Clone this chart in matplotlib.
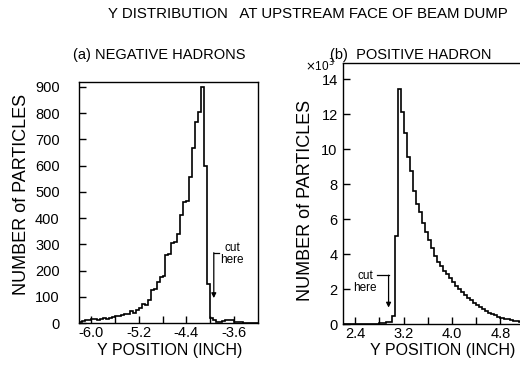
import numpy as np
import matplotlib
matplotlib.use("Agg")
import matplotlib.pyplot as plt

plt.rcParams['font.family'] = ['Liberation Sans', 'DejaVu Sans']
plt.rcParams['axes.unicode_minus'] = False

bin_width = 0.05

# (a) negative hadrons, bins from -6.20 in steps of 0.05
neg_start = -6.20
neg_counts = [3, 8, 12, 10, 15, 15, 12, 16, 18, 17,
              20, 22, 25, 28, 32, 35, 33, 45, 40, 50,
              56, 72, 70, 88, 125, 130, 158, 175, 180, 259,
              262, 304, 310, 339, 412, 463, 466, 558, 666, 768,
              806, 900, 599, 149, 18, 12, 5, 5, 8, 12,
              12, 10, 3, 5, 2, 0, 0, 0, 0, 0]

# (b) positive hadrons (x10^3), bins from 2.20 in steps of 0.05
pos_start = 2.20
pos_counts = [0, 0, 0, 0, 0, 0, 0, 0, 0, 0,
              0, 0.03, 0.05, 0.07, 0.12, 0.15, 0.45, 5.03, 13.45, 12.13,
              10.93, 9.56, 8.76, 7.62, 6.90, 6.42, 5.79, 5.27, 4.84, 4.38,
              3.89, 3.56, 3.31, 3.05, 2.85, 2.62, 2.42, 2.20, 2.00, 1.84,
              1.66, 1.52, 1.36, 1.22, 1.08, 0.96, 0.85, 0.74, 0.65, 0.57,
              0.50, 0.43, 0.37, 0.32, 0.27, 0.23, 0.20, 0.17, 0.15, 0.13]

neg_xticks = [-6.0, -5.6, -5.2, -4.8, -4.4, -4.0, -3.6]
neg_xlabels = ['-6.0', '', '-5.2', '', '-4.4', '', '-3.6']
neg_yticks = [0, 100, 200, 300, 400, 500, 600, 700, 800, 900]
pos_xticks = [2.4, 2.8, 3.2, 3.6, 4.0, 4.4, 4.8]
pos_xlabels = ['2.4', '', '3.2', '', '4.0', '', '4.8']
pos_yticks = [0, 2, 4, 6, 8, 10, 12, 14]

fig = plt.figure(figsize=(5.2, 3.85), dpi=100)
ax1 = fig.add_axes([0.152, 0.161, 0.344, 0.627])
ax2 = fig.add_axes([0.660, 0.158, 0.349, 0.679])

neg_edges = neg_start + bin_width * np.arange(len(neg_counts) + 1)
pos_edges = pos_start + bin_width * np.arange(len(pos_counts) + 1)

ax1.stairs(neg_counts, neg_edges, color='black', lw=1.2)
ax2.stairs(pos_counts, pos_edges, color='black', lw=1.2)

ax1.set_xlim(-6.2, -3.2)
ax1.set_ylim(0, 920)
ax2.set_xlim(2.2, 5.2)
ax2.set_ylim(0, 14.95)

for ax in (ax1, ax2):
    for s in ax.spines.values():
        s.set_linewidth(1.0)
    ax.tick_params(direction='in', length=5, width=1.0, labelsize=10.5,
                   top=False, right=False)

ax1.set_xticks(neg_xticks)
ax1.set_xticklabels(neg_xlabels)
ax1.set_yticks(neg_yticks)
ax1.tick_params(axis='y', pad=14)
ax1.tick_params(axis='x', pad=2)
ax2.set_xticks(pos_xticks)
ax2.set_xticklabels(pos_xlabels)
ax2.set_yticks(pos_yticks)
ax2.tick_params(axis='y', pad=4)
ax2.tick_params(axis='x', pad=2)

# cut annotations
ax1.plot([-3.85, -3.94], [268, 268], color='black', lw=0.9)
ax1.annotate('', xy=(-3.94, 95), xytext=(-3.94, 268),
             arrowprops=dict(arrowstyle='-|>', color='black', lw=0.9,
                             mutation_scale=7, shrinkA=0, shrinkB=0))
ax1.text(-3.63, 262, 'cut\nhere', ha='center', va='center', fontsize=8.5,
         linespacing=1.0)

ax2.plot([2.76, 2.95], [2.8, 2.8], color='black', lw=0.9)
ax2.annotate('', xy=(2.95, 0.95), xytext=(2.95, 2.8),
             arrowprops=dict(arrowstyle='-|>', color='black', lw=0.9,
                             mutation_scale=7, shrinkA=0, shrinkB=0))
ax2.text(2.565, 2.4, 'cut\nhere', ha='center', va='center', fontsize=8.5,
         linespacing=1.0)

# texts
fig.text(308 / 520, 1 - 14 / 385, 'Y DISTRIBUTION   AT UPSTREAM FACE OF BEAM DUMP',
         ha='center', va='center', fontsize=10.8)
fig.text(159 / 520, 1 - 55 / 385, '(a) NEGATIVE HADRONS',
         ha='center', va='center', fontsize=10.5)
fig.text(330 / 520, 1 - 55 / 385, '(b)  POSITIVE HADRON',
         ha='left', va='center', fontsize=10.5)
fig.text(320 / 520, 1 - 66 / 385, r'$\times$10$^3$',
         ha='center', va='center', fontsize=8.5)

fig.text(170 / 520, 1 - 351 / 385, 'Y POSITION (INCH)',
         ha='center', va='center', fontsize=11.5)
fig.text(515 / 520, 1 - 351 / 385, 'Y POSITION (INCH)',
         ha='right', va='center', fontsize=11.5)
fig.text(22 / 520, 1 - 194 / 385, 'NUMBER of PARTICLES',
         ha='center', va='center', rotation=90, fontsize=13)
fig.text(305 / 520, 1 - 200 / 385, 'NUMBER of PARTICLES',
         ha='center', va='center', rotation=90, fontsize=13)

fig.savefig('out.png', dpi=100)
